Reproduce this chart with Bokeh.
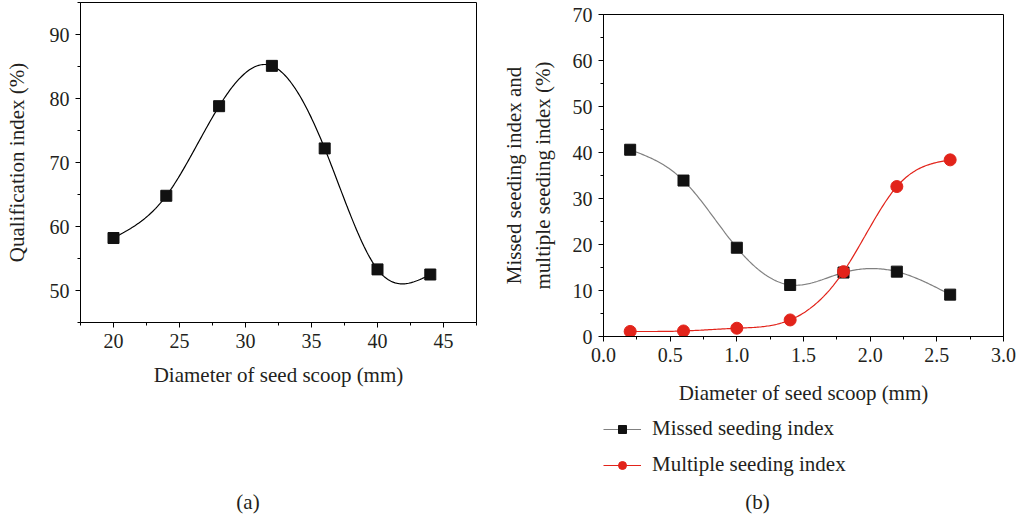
import numpy as np
from bokeh.plotting import figure
from bokeh.layouts import row, column
from bokeh.models import (SingleIntervalTicker, PrintfTickFormatter, Legend, LegendItem, Div)
from bokeh.embed import file_html
from bokeh.resources import INLINE

# ---- data ----
scoop_a = [20, 24, 28, 32, 36, 40, 44]
qualification = [58.2, 64.8, 78.8, 85.1, 72.2, 53.3, 52.5]

scoop_b = [0.2, 0.6, 1.0, 1.4, 1.8, 2.2, 2.6]
missed = [40.6, 33.9, 19.3, 11.2, 13.9, 14.1, 9.1]
multiple = [1.1, 1.2, 1.8, 3.6, 14.1, 32.6, 38.4]

series_names = ["Missed seeding index", "Multiple seeding index"]

FONT = "Liberation Serif"
TXT = "#231f20"
RED = "#e2231a"
GREY = "#808080"
TICK_SIZE = "20px"
LABEL_SIZE = "21px"


def smooth(x, y, n=40):
    """Natural cubic spline through the data points (Origin-style 'Spline' connection)."""
    x = np.asarray(x, float)
    y = np.asarray(y, float)
    k = len(x)
    h = np.diff(x)
    A = np.zeros((k - 2, k - 2))
    r = np.zeros(k - 2)
    for i in range(k - 2):
        A[i, i] = 2 * (h[i] + h[i + 1])
        if i + 1 < k - 2:
            A[i, i + 1] = h[i + 1]
            A[i + 1, i] = h[i + 1]
        r[i] = 6 * ((y[i + 2] - y[i + 1]) / h[i + 1] - (y[i + 1] - y[i]) / h[i])
    M = np.zeros(k)
    M[1:-1] = np.linalg.solve(A, r)
    xs, ys = [], []
    for i in range(k - 1):
        t = np.linspace(x[i], x[i + 1], n, endpoint=(i == k - 2))
        hi = h[i]
        s = (M[i] * (x[i + 1] - t) ** 3 / (6 * hi) + M[i + 1] * (t - x[i]) ** 3 / (6 * hi)
             + (y[i] / hi - M[i] * hi / 6) * (x[i + 1] - t)
             + (y[i + 1] / hi - M[i + 1] * hi / 6) * (t - x[i]))
        xs.extend(t)
        ys.extend(s)
    return xs, ys


def style(p, xint, yint):
    p.xgrid.visible = False
    p.ygrid.visible = False
    p.outline_line_color = "black"
    p.outline_line_width = 1
    p.background_fill_color = "white"
    p.border_fill_color = "white"
    p.xaxis.ticker = SingleIntervalTicker(interval=xint, num_minor_ticks=2)
    p.yaxis.ticker = SingleIntervalTicker(interval=yint, num_minor_ticks=2)
    for ax in (p.xaxis[0], p.yaxis[0]):
        ax.axis_line_color = "black"
        ax.axis_line_width = 1
        ax.major_tick_line_color = "black"
        ax.minor_tick_line_color = "black"
        ax.major_tick_in = 0
        ax.major_tick_out = 5
        ax.minor_tick_in = 0
        ax.minor_tick_out = 3
        ax.major_label_text_font = FONT
        ax.major_label_text_font_size = TICK_SIZE
        ax.major_label_text_color = TXT
        ax.axis_label_text_font = FONT
        ax.axis_label_text_font_size = LABEL_SIZE
        ax.axis_label_text_font_style = "normal"
        ax.axis_label_text_color = TXT
        ax.major_label_standoff = 6


def caption(text, width):
    html = ('<div style="width:%dpx;text-align:center;font-family:\'%s\';font-size:%s;'
            'color:%s;line-height:22px;padding-top:11px;">%s</div>' % (width, FONT, LABEL_SIZE, TXT, text))
    return Div(text=html, width=width, height=41, margin=0)


# ---- panel (a) ----
pa = figure(width=496, height=480, x_range=(17.5, 47.5), y_range=(45, 95),
            output_backend="svg", toolbar_location=None,
            min_border_left=80, min_border_right=20, min_border_top=2, min_border_bottom=158)
style(pa, 5, 10)
pa.xaxis.axis_label = "Diameter of seed scoop (mm)"
pa.yaxis.axis_label = "Qualification index (%)"
pa.xaxis.axis_label_standoff = 12
pa.yaxis.axis_label_standoff = 18

sx, sy = smooth(scoop_a, qualification)
pa.line(sx, sy, line_color="black", line_width=1.2)
pa.scatter(scoop_a, qualification, marker="square", size=11, fill_color="#111111", line_color="#111111")

# ---- panel (b) ----
pb = figure(width=523, height=410, x_range=(0, 3), y_range=(0, 70),
            output_backend="svg", toolbar_location=None,
            min_border_left=107, min_border_right=16, min_border_top=14, min_border_bottom=74)
style(pb, 0.5, 10)
pb.xaxis.formatter = PrintfTickFormatter(format="%.1f")
pb.xaxis.axis_label = "Diameter of seed scoop (mm)"
pb.xaxis.axis_label_standoff = 16
pb.yaxis.axis_label = "Missed seeding index and\nmultiple seeding index (%)"
pb.yaxis.axis_label_standoff = 15

mx, my = smooth(scoop_b, missed)
pb.line(mx, my, line_color=GREY, line_width=1.2)
pb.scatter(scoop_b, missed, marker="square", size=11, fill_color="#111111", line_color="#111111")
rx, ry = smooth(scoop_b, multiple)
pb.line(rx, ry, line_color=RED, line_width=1.2)
pb.scatter(scoop_b, multiple, marker="circle", size=12, fill_color=RED, line_color=RED)

# ---- legend strip under panel (b) (its frame is aligned with panel (b)'s frame) ----
# The series are drawn here too, but the ranges keep them out of view; only the legend shows.
leg = figure(width=523, height=70, x_range=(10, 11), y_range=(100, 101),
             x_axis_type=None, y_axis_type=None, output_backend="svg", toolbar_location=None,
             min_border=0, min_border_left=0, min_border_right=0, min_border_top=0, min_border_bottom=0)
leg.xgrid.visible = False
leg.ygrid.visible = False
leg.outline_line_color = None
g1 = leg.line(scoop_b, missed, line_color=GREY, line_width=1.2)
m1 = leg.scatter(scoop_b, missed, marker="square", size=11, fill_color="#111111", line_color="#111111")
g2 = leg.line(scoop_b, multiple, line_color=RED, line_width=1.2)
m2 = leg.scatter(scoop_b, multiple, marker="circle", size=12, fill_color=RED, line_color=RED)
legend = Legend(items=[LegendItem(label=series_names[0], renderers=[g1, m1]),
                       LegendItem(label=series_names[1], renderers=[g2, m2])],
                location=(0, 3), orientation="vertical")
legend.background_fill_alpha = 0
legend.border_line_alpha = 0
legend.padding = 0
legend.margin = 0
legend.spacing = 11
legend.glyph_width = 38
legend.glyph_height = 20
legend.label_height = 20
legend.label_standoff = 11
legend.label_text_font = FONT
legend.label_text_font_size = LABEL_SIZE
legend.label_text_color = TXT
leg.add_layout(legend)

layout = row(column(pa, caption("(a)", 496)),
             column(pb, leg, caption("(b)", 523)))
open("out.html", "w").write(file_html(layout, INLINE))
